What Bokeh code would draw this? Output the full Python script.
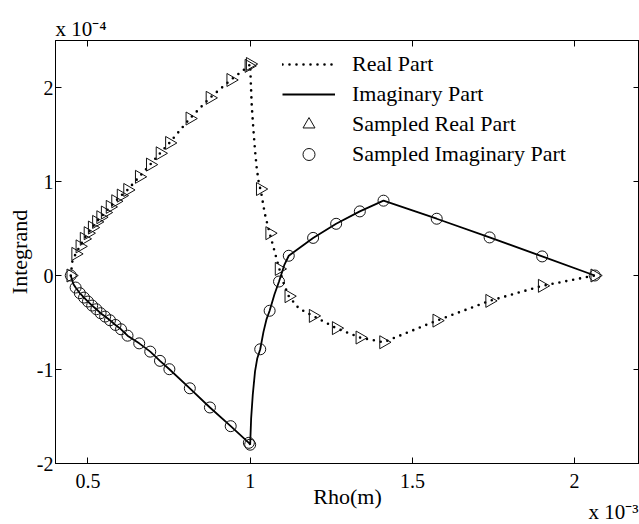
from bokeh.plotting import figure
from bokeh.models import (LinearAxis, Legend, LegendItem, Title, FixedTicker,
                          Range1d, CustomLabelingPolicy)
from bokeh.embed import file_html
from bokeh.resources import INLINE
import math

# ---------------- data ----------------
# Rho in units of 1e-3 m, integrand in units of 1e-4
rho_samples = [0.447, 0.462, 0.475, 0.488, 0.500, 0.513, 0.526, 0.539, 0.553, 0.568,
               0.585, 0.602, 0.622, 0.658, 0.692, 0.722, 0.751, 0.814, 0.876, 0.940,
               0.996, 1.000, 1.031, 1.060, 1.089, 1.119, 1.194, 1.265, 1.338, 1.411,
               1.575, 1.738, 1.900, 2.062]
real_samples = [0.0, 0.23, 0.31, 0.39, 0.45, 0.51, 0.57, 0.62, 0.67, 0.73,
                0.79, 0.85, 0.91, 1.05, 1.18, 1.30, 1.41, 1.67, 1.89, 2.08,
                2.23, 2.25, 0.92, 0.45, 0.07, -0.22, -0.43, -0.56, -0.66, -0.71,
                -0.48, -0.27, -0.11, 0.0]
imag_samples = [0.0, -0.128, -0.188, -0.235, -0.277, -0.320, -0.359, -0.401, -0.437, -0.476,
                -0.526, -0.572, -0.640, -0.722, -0.810, -0.908, -0.997, -1.20, -1.404, -1.603,
                -1.78, -1.80, -0.785, -0.375, -0.064, 0.21, 0.40, 0.55, 0.682, 0.796,
                0.604, 0.405, 0.203, 0.0]

rho_real_curve = [0.447, 0.452, 0.462, 0.475, 0.488, 0.500, 0.513, 0.526, 0.539, 0.553,
                  0.568, 0.585, 0.602, 0.622, 0.658, 0.692, 0.722, 0.751, 0.814, 0.876,
                  0.940, 0.996, 1.000, 1.002, 1.005, 1.010, 1.015, 1.020, 1.026, 1.034,
                  1.045, 1.060, 1.075, 1.089, 1.105, 1.119, 1.150, 1.194, 1.265, 1.338,
                  1.411, 1.575, 1.738, 1.900, 2.062]
real_curve = [0.0, 0.15, 0.23, 0.31, 0.39, 0.45, 0.51, 0.57, 0.62, 0.67,
              0.73, 0.79, 0.85, 0.91, 1.05, 1.18, 1.30, 1.41, 1.67, 1.89,
              2.08, 2.23, 2.25, 2.05, 1.80, 1.55, 1.33, 1.15, 1.00, 0.88,
              0.66, 0.45, 0.26, 0.08, -0.10, -0.22, -0.35, -0.43, -0.56, -0.66,
              -0.71, -0.48, -0.27, -0.11, 0.0]

rho_imag_curve = [0.447, 0.455, 0.462, 0.475, 0.488, 0.500, 0.513, 0.526, 0.539, 0.553,
                  0.568, 0.585, 0.602, 0.622, 0.658, 0.692, 0.722, 0.751, 0.814, 0.876,
                  0.940, 0.996, 1.000, 1.003, 1.008, 1.015, 1.022, 1.031, 1.041, 1.050,
                  1.060, 1.075, 1.089, 1.105, 1.119, 1.194, 1.265, 1.338, 1.411, 1.575,
                  1.738, 1.900, 2.062]
imag_curve = [0.0, -0.09, -0.128, -0.188, -0.235, -0.277, -0.320, -0.359, -0.401, -0.437,
              -0.476, -0.526, -0.572, -0.640, -0.722, -0.810, -0.908, -0.997, -1.20, -1.404,
              -1.603, -1.78, -1.80, -1.52, -1.27, -1.02, -0.88, -0.785, -0.60, -0.47,
              -0.375, -0.20, -0.064, 0.11, 0.21, 0.40, 0.55, 0.682, 0.796, 0.604,
              0.405, 0.203, 0.0]

x_ticks = [0.5, 1.0, 1.5, 2.0]
x_tick_labels = ["0.5", "1", "1.5", "2"]
y_ticks = [-2, -1, 0, 1, 2]
y_tick_labels = ["-2", "-1", "0", "1", "2"]

legend_labels = ["Real Part", "Imaginary Part", "Sampled Real Part",
                 "Sampled Imaginary Part"]
y_scale_text = "x 10\u207b\u2074"
x_scale_text = "x 10\u207b\u00b3"

# ---------------- figure ----------------
FONT = "Liberation Serif"

p = figure(width=639, height=524, x_range=Range1d(0.4, 2.2), y_range=Range1d(-2, 2.5),
           output_backend="svg", toolbar_location=None,
           min_border_left=55, min_border_right=0, min_border_top=40,
           min_border_bottom=61)
p.background_fill_color = "white"
p.border_fill_color = "white"
p.outline_line_color = "black"
p.outline_line_width = 1
p.xgrid.visible = False
p.ygrid.visible = False

# exponent note above the plot (left)
p.title.text = y_scale_text
p.title.align = "left"
p.title.offset = 0
p.title.standoff = 0
p.title.text_font = FONT
p.title.text_font_size = "21px"
p.title.text_font_style = "normal"
p.title.text_color = "black"

hide_all = CustomLabelingPolicy(code="""
for (const i of indices) { indices.unset(i) }
return indices
""")

def style_axis(ax, ticks, labels, show_labels):
    ax.ticker = FixedTicker(ticks=ticks)
    ax.major_label_overrides = {t: l for t, l in zip(ticks, labels)}
    ax.major_tick_in = 6
    ax.major_tick_out = 0
    ax.minor_tick_in = 0
    ax.minor_tick_out = 0
    ax.axis_line_color = "black"
    ax.major_tick_line_color = "black"
    ax.major_label_text_font = FONT
    ax.major_label_text_color = "black"
    if show_labels:
        ax.major_label_text_font_size = "20px"
    else:
        ax.major_label_text_font_size = "0px"
        ax.major_label_standoff = 0
        ax.major_label_policy = hide_all

style_axis(p.xaxis[0], x_ticks, x_tick_labels, True)
style_axis(p.yaxis[0], y_ticks, y_tick_labels, True)
p.xaxis[0].major_label_standoff = 10
p.yaxis[0].major_label_standoff = 2

p.xaxis[0].axis_label = "Rho(m)"
p.yaxis[0].axis_label = "Integrand"
for ax in (p.xaxis[0], p.yaxis[0]):
    ax.axis_label_text_font = FONT
    ax.axis_label_text_font_size = "22px"
    ax.axis_label_text_font_style = "normal"
    ax.axis_label_text_color = "black"
p.xaxis[0].axis_label_standoff = -7
p.yaxis[0].axis_label_standoff = 2

top_axis = LinearAxis()
style_axis(top_axis, x_ticks, x_tick_labels, False)
p.add_layout(top_axis, "above")
right_axis = LinearAxis()
style_axis(right_axis, y_ticks, y_tick_labels, False)
p.add_layout(right_axis, "right")

# exponent note below the plot (right)
p.add_layout(Title(text=x_scale_text, align="right", offset=1, standoff=-24,
                   vertical_align="top", text_font=FONT, text_font_size="21px",
                   text_font_style="normal", text_color="black"), "below")

# ---------------- data glyphs ----------------
r_real = p.line(rho_real_curve, real_curve, line_color="black", line_width=2.6,
                line_dash="0 7", line_cap="round")
r_imag = p.line(rho_imag_curve, imag_curve, line_color="black", line_width=1.8)
r_sreal = p.scatter(rho_samples, real_samples, marker="triangle", size=13,
                    angle=-math.pi / 2, fill_color=None, line_color="#111111",
                    line_width=1)
r_simag = p.scatter(rho_samples, imag_samples, marker="circle", size=11,
                    fill_color=None, line_color="#111111", line_width=1)

# ---------------- legend ----------------
legend = Legend(items=[LegendItem(label=lab, renderers=[r]) for lab, r in
                       zip(legend_labels, (r_real, r_imag, r_sreal, r_simag))],
                location=(227, 294), padding=0, margin=0, spacing=0,
                glyph_width=53, glyph_height=30, label_height=30,
                label_standoff=17, label_text_font=FONT,
                label_text_font_size="22px", label_text_color="black",
                border_line_alpha=0, background_fill_alpha=0)
p.add_layout(legend)

open("out.html", "w").write(file_html(p, INLINE))
